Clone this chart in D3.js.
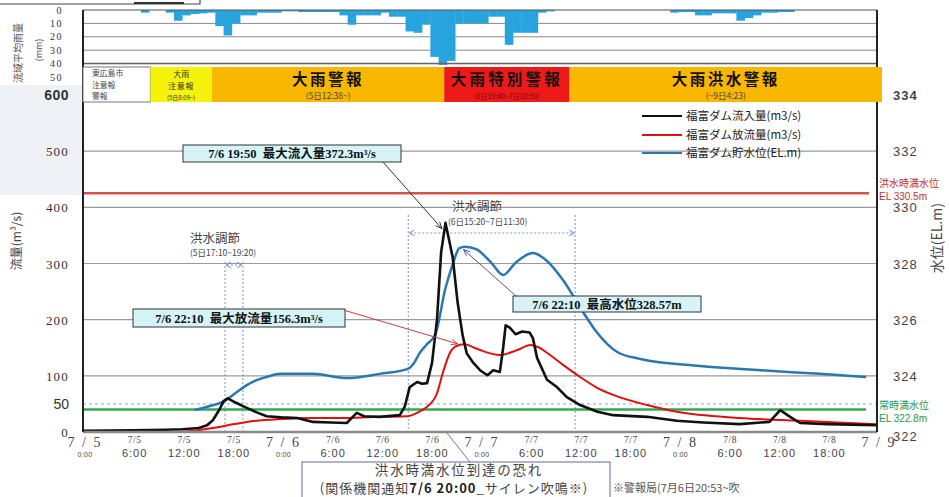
<!DOCTYPE html>
<html><head><meta charset="utf-8">
<script src="https://cdn.jsdelivr.net/npm/d3@7"></script>
<style>body{margin:0;background:#fff;} svg{display:block;}</style>
</head><body><svg id="c" width="949" height="497"></svg>
<script>
// ---------- DATA ----------
// hours since 7/5 0:00
const rainHour=[7,10,11,12,13,14,15,16,17,18,19,20,21,22,23,24,25,26,27,28,29,30,31,32,33,34,35,36,37,38,39,40,41,42,43,44,45,46,47,48,49,50,51,52,53,54,55,56,71,72,73,74,75,76,77,78,79,80,81,82,83,84,85];
const rainMm=[2,2,8,4,3,2.5,2,12,19,10,4,4,2,2,2,1,1,1.5,1.5,1.5,1.5,1.5,4,11,4,4,4,2,5,5,16,17,11,35,41,38,10,10,10,10,5,5,26,17,17,17,2,1,2,1.5,1.5,4,4,2.5,2.5,2.5,8,6,4,2,2,1.5,1.5];

const inflowT=[0,6,10,12,14,15,15.7,16.5,17,17.5,18.5,19.8,21,22.2,24,25.9,27.8,30,31.9,32.5,33.1,34,35.9,38.3,38.9,39.5,40.4,41,41.6,42.2,42.8,43.3,43.83,44.7,45.3,45.9,46.4,47.2,48.0,48.9,49.6,50.4,50.8,51.1,51.6,52.3,53.1,54.0,54.4,54.9,56.1,57.3,58.5,60.1,62.2,64.1,68.2,71.8,75,79.4,83,84.3,85.5,86.7,90,96];
const inflowV=[2,3,4,5,7,12,21,40,55,60,52,43,35,28,26,25,18,17,16,25,34,28,27,30,45,80,89,86,87,123,200,320,372.3,311,230,172,140,123,110,101,110,107,150,190,186,174,179,177,167,132,93,80,62,48,36,30,27,20,17,14,18,39,27,16,14,12];

const outflowT=[0,10,12.5,14.1,15.7,17.5,19.8,23.8,27.8,32,35.9,39.2,40.5,41.6,42.8,43.5,44.4,45.3,46.17,47,48,50.4,52.5,54.1,55.2,56.1,58,60.1,62,64.1,68.2,71.8,79.4,86.7,96];
const outflowV=[0,0,1,3.5,7,12,18,23,25,25,27,28,35,45,69,105,142,154,156.3,152,146,137,146,155,150,141,120,98,80,66,48,36,25,20,14];

const levelT=[13.5,15,16.9,18.5,19.8,21,22.2,23.8,27.8,31.9,35.9,39.2,40,40.7,41.5,42.6,43.8,44.7,45.5,46.2,47.6,49.3,50.8,52.3,54.4,56.1,58.2,60.3,62.0,64.6,67.4,74.6,81.9,89.1,94.7];
const levelV=[322.78,322.9,323.07,323.4,323.67,323.85,323.96,324.07,324.07,323.92,324.07,324.24,324.45,324.81,325.1,325.47,327.09,327.97,328.55,328.6,328.5,328.05,327.59,328.03,328.37,328.09,327.34,326.34,325.6,324.85,324.6,324.35,324.2,324.07,323.96];

const flowTicks=[0,100,200,300,400,500,600];
const levelTicks=[322,324,326,328,330,332,334];
const rainTicks=[0,10,20,30,40,50];
const xTickHours=[0,6,12,18,24,30,36,42,48,54,60,66,72,78,84,90,96];
const xTickDate=["7/5","7/5","7/5","7/5","7/6","7/6","7/6","7/6","7/7","7/7","7/7","7/7","7/8","7/8","7/8","7/8","7/9"];
const xTickTime=["0:00","6:00","12:00","18:00","0:00","6:00","12:00","18:00","0:00","6:00","12:00","18:00","0:00","6:00","12:00","18:00",""];

const warnStart=[8.15,15.6,43.67,58.83];
const warnEnd=[15.6,43.67,58.83,96.6];
const warnName=["大雨|注意報","大雨警報","大雨特別警報","大雨洪水警報"];
const warnSub=["(5日8:09~)","(5日12:38~)","(6日19:40~7日10:50)","(~9日4:23)"];
const warnColor=["#f7f20c","#f9b700","#ee1a1a","#f9b700"];

const floodLevel=330.5, normalLevel=322.8;
const legendNames=["福富ダム流入量(m3/s)","福富ダム放流量(m3/s)","福富ダム貯水位(EL.m)"];
const legendColors=["#111","#e01010","#2a78b0"];

// ---------- SCALES ----------
const svg=d3.select("#c");
const x=d3.scaleLinear().domain([0,96]).range([83,877]);
const yL=d3.scaleLinear().domain([0,600]).range([432,95]);
const yR=d3.scaleLinear().domain([322,334]).range([432,95]);
const yRain=d3.scaleLinear().domain([0,50]).range([10,77]);
const JP="'Noto Sans CJK JP',sans-serif";
const SERIF="'Liberation Serif','Noto Sans CJK JP',serif";
const SANS="'Liberation Sans','Noto Sans CJK JP',sans-serif";

svg.append("rect").attr("width",949).attr("height",497).attr("fill","#fff");
svg.append("rect").attr("x",0).attr("y",85).attr("width",83).attr("height",110).attr("fill","#eef2f7");

svg.append("path").attr("d","M0,4H200V0").attr("fill","none").attr("stroke","#444").attr("stroke-width",1.2);
svg.append("line").attr("x1",134).attr("x2",184).attr("y1",3).attr("y2",3).attr("stroke","#333").attr("stroke-width",2);

// ---------- RAIN PANEL ----------
const rain=svg.append("g");
rain.selectAll("line.rg").data(rainTicks.filter(d=>d>0&&d<50)).join("line")
  .attr("x1",x(0)).attr("x2",x(96)).attr("y1",d=>yRain(d)).attr("y2",d=>yRain(d))
  .attr("stroke","#8a8a8a").attr("stroke-width",1);
rain.selectAll("rect").data(rainHour.map((h,i)=>({h,v:rainMm[i]}))).join("rect")
  .attr("x",d=>x(d.h)).attr("width",d=>x(d.h+1)-x(d.h)+0.3)
  .attr("y",yRain(0)).attr("height",d=>yRain(d.v)-yRain(0)).attr("fill","#27a3dd");
rain.append("line").attr("x1",x(0)).attr("x2",x(96)).attr("y1",yRain(0)).attr("y2",yRain(0)).attr("stroke","#555").attr("stroke-width",1.2);
rain.append("line").attr("x1",x(0)).attr("x2",x(96)).attr("y1",yRain(40)).attr("y2",yRain(40)).attr("stroke","#666").attr("stroke-width",1.5);
rain.selectAll("text").data(rainTicks).join("text")
  .attr("x",63).attr("y",d=>yRain(d)+3.5).attr("text-anchor","end")
  .attr("font-family",SERIF).attr("font-size",10).attr("letter-spacing",1.5).attr("fill","#333").text(d=>d);
svg.append("text").attr("transform","translate(22,53) rotate(-90)").attr("text-anchor","middle")
  .attr("font-family",JP).attr("font-size",10).attr("fill","#555").text("流域平均雨量");
svg.append("text").attr("transform","translate(42,50) rotate(-90)").attr("text-anchor","middle")
  .attr("font-family",JP).attr("font-size",9).attr("fill","#555").text("(mm)");

// ---------- MAIN GRID ----------
const g=svg.append("g");
g.selectAll("line.grid").data(flowTicks.filter(d=>d>0&&d<600)).join("line")
  .attr("x1",x(0)).attr("x2",x(96)).attr("y1",d=>yL(d)).attr("y2",d=>yL(d))
  .attr("stroke","#9a9a9a").attr("stroke-width",1.2);
g.append("line").attr("x1",x(0)).attr("x2",x(96)).attr("y1",yL(50)).attr("y2",yL(50))
  .attr("stroke","#9aa4c4").attr("stroke-width",1).attr("stroke-dasharray","3,3");

const fc=[{s:17.17,e:19.33,top:262,ay:265},{s:39.33,e:59.5,top:215,ay:233}];
fc.forEach(d=>{
  [d.s,d.e].forEach(t=>g.append("line").attr("x1",x(t)).attr("x2",x(t)).attr("y1",d.top).attr("y2",432)
    .attr("stroke","#7d8fc8").attr("stroke-width",1).attr("stroke-dasharray","2,2"));
  g.append("line").attr("x1",x(d.s)+2).attr("x2",x(d.e)-2).attr("y1",d.ay).attr("y2",d.ay)
    .attr("stroke","#7d8fc8").attr("stroke-width",1).attr("stroke-dasharray","2,2");
  [[x(d.s)+1,1],[x(d.e)-1,-1]].forEach(([px,dir])=>g.append("path")
    .attr("d",`M${px+5*dir},${d.ay-3}L${px},${d.ay}L${px+5*dir},${d.ay+3}`).attr("fill","none").attr("stroke","#7d8fc8"));
});

g.append("line").attr("x1",x(0)).attr("x2",869).attr("y1",yR(floodLevel)).attr("y2",yR(floodLevel)).attr("stroke","#d9534a").attr("stroke-width",2.5);
g.append("line").attr("x1",x(0)).attr("x2",866).attr("y1",yR(normalLevel)).attr("y2",yR(normalLevel)).attr("stroke","#2eaa50").attr("stroke-width",2.5);

// ---------- SERIES ----------
const lineR=d3.line().x(d=>x(d[0])).y(d=>yR(d[1])).curve(d3.curveMonotoneX);
g.append("path").datum(levelT.map((t,i)=>[t,levelV[i]])).attr("d",lineR)
  .attr("fill","none").attr("stroke",legendColors[2]).attr("stroke-width",2.5);
g.append("path").datum(outflowT.map((t,i)=>[t,outflowV[i]])).attr("d",d3.line().x(d=>x(d[0])).y(d=>yL(d[1])).curve(d3.curveMonotoneX))
  .attr("fill","none").attr("stroke",legendColors[1]).attr("stroke-width",2);
g.append("path").datum(inflowT.map((t,i)=>[t,inflowV[i]])).attr("d",d3.line().x(d=>x(d[0])).y(d=>yL(d[1])))
  .attr("fill","none").attr("stroke",legendColors[0]).attr("stroke-width",2.6).attr("stroke-linejoin","round");

// ---------- AXES ----------
svg.append("line").attr("x1",x(0)).attr("x2",x(96)).attr("y1",yL(0)).attr("y2",yL(0)).attr("stroke","#8a8a8a").attr("stroke-width",2.5);
svg.append("line").attr("x1",x(0)).attr("x2",x(0)).attr("y1",10).attr("y2",yL(0)).attr("stroke","#222").attr("stroke-width",2);
svg.append("line").attr("x1",x(96)).attr("x2",x(96)).attr("y1",10).attr("y2",yL(0)).attr("stroke","#222").attr("stroke-width",2);

svg.selectAll("text.fl").data(flowTicks).join("text").attr("class","fl")
  .attr("x",69).attr("y",d=>yL(d)+5).attr("text-anchor","end")
  .attr("font-family",d=>d===600?SANS:SERIF).attr("font-weight",d=>d===600?"bold":"normal")
  .attr("font-size",d=>d===600?14:13).attr("letter-spacing",d=>d===600?0.5:1.2).attr("fill","#333").text(d=>d);
svg.append("text").attr("x",69).attr("y",yL(50)+5).attr("text-anchor","end").attr("font-family",SANS)
  .attr("font-size",14).attr("fill","#333").text("50");
svg.append("text").attr("transform",`translate(21,${yL(340)}) rotate(-90)`).attr("text-anchor","middle")
  .attr("font-family",JP).attr("font-size",12).attr("fill","#444").text("流量(m³/s)");

svg.selectAll("text.lv").data(levelTicks).join("text").attr("class","lv")
  .attr("x",893).attr("y",d=>yR(d)+5+(d===322?4:0))
  .attr("font-family",SANS).attr("font-weight",d=>d===334?"bold":"normal")
  .attr("font-size",13).attr("letter-spacing",1).attr("fill","#444").text(d=>d);
svg.append("text").attr("transform",`translate(942,${yR(328.9)}) rotate(-90)`).attr("text-anchor","middle")
  .attr("font-family",JP).attr("font-size",14).attr("fill","#444").text("水位(EL.m)");
[["洪水時満水位","EL  330.5m",floodLevel,"#c0302a",-6],["常時満水位","EL  322.8m",normalLevel,"#1f9a45",-0.5]].forEach(([a,b,v,c,o])=>{
  svg.append("text").attr("x",879).attr("y",yR(v)+o).attr("font-family",JP).attr("font-size",10).attr("fill",c).text(a);
  svg.append("text").attr("x",879).attr("y",yR(v)+o+12.5).attr("font-family",SANS).attr("font-size",10).attr("fill",c).text(b);
});

xTickHours.forEach((h,i)=>{
  const day=h%24===0;
  svg.append("text").attr("x",x(h)+2).attr("y",day?447:443).attr("text-anchor","middle")
    .attr("font-family",SERIF).attr("font-size",day?14:9.5).attr("letter-spacing",day?2:0.5)
    .attr("fill","#444").text(day?xTickDate[i].replace("/"," / "):xTickDate[i]);
  if(xTickTime[i]) svg.append("text").attr("x",x(h)+2).attr("y",457).attr("text-anchor","middle")
    .attr("font-family",SANS).attr("font-size",day?7:11).attr("letter-spacing",day?0.3:1).attr("fill","#444").text(xTickTime[i]);
});

// ---------- WARNING BAND ----------
const bandTop=67, bandBot=102;
svg.append("rect").attr("x",x(0)).attr("y",bandTop).attr("width",x(warnStart[0])-x(0)).attr("height",bandBot-bandTop)
  .attr("fill","#fff").attr("stroke","#777").attr("stroke-width",1);
["東広島市","注意報","警報"].forEach((t,i)=>svg.append("text").attr("x",x(0)+9).attr("y",bandTop+9+i*11.5)
  .attr("font-family",JP).attr("font-size",7.8).attr("fill","#444").text(t));
warnStart.forEach((s,i)=>{
  const x0=x(s), x1=x(warnEnd[i]), cx=(x0+x1)/2;
  svg.append("rect").attr("x",x0).attr("y",bandTop).attr("width",x1-x0).attr("height",bandBot-bandTop).attr("fill",warnColor[i]);
  if(i===0){
    const p=warnName[i].split("|");
    svg.append("text").attr("x",cx).attr("y",bandTop+10).attr("text-anchor","middle").attr("font-family",JP).attr("font-size",8).attr("fill","#333").text(p[0]);
    svg.append("text").attr("x",cx).attr("y",bandTop+21.8).attr("text-anchor","middle").attr("font-family",JP).attr("font-size",8).attr("letter-spacing",0.8).attr("fill","#333").text(p[1]);
    svg.append("text").attr("x",cx).attr("y",bandTop+32.5).attr("text-anchor","middle").attr("font-family",JP).attr("font-size",6).attr("fill","#333").text(warnSub[i]);
  } else {
    svg.append("text").attr("x",cx).attr("y",bandTop+17.5).attr("text-anchor","middle").attr("font-family",JP)
      .attr("font-weight","bold").attr("font-size",15.5).attr("letter-spacing",i===2?3.2:2.5).attr("fill","#111").text(warnName[i]);
    svg.append("text").attr("x",cx).attr("y",bandTop+32).attr("text-anchor","middle").attr("font-family",JP)
      .attr("font-size",i===2?7:8.5).attr("fill",i===2?"#8a0000":"#444").text(warnSub[i]);
  }
});

// ---------- LEGEND ----------
legendNames.forEach((n,i)=>{
  const ly=[116,135,153][i];
  svg.append("line").attr("x1",642).attr("x2",682).attr("y1",ly).attr("y2",ly).attr("stroke",legendColors[i]).attr("stroke-width",2);
  svg.append("text").attr("x",686).attr("y",ly+4).attr("font-family",JP).attr("font-size",11.5).attr("fill","#222").text(n);
});

// ---------- ANNOTATIONS ----------
function callout(t,v,scale,box,text,color){
  svg.append("line").attr("x1",box.ax).attr("y1",box.ay).attr("x2",x(t)).attr("y2",scale(v)).attr("stroke",color).attr("stroke-width",1);
  const ang=Math.atan2(scale(v)-box.ay,x(t)-box.ax);
  const tx=x(t),ty=scale(v);
  svg.append("path").attr("d",`M${tx-7*Math.cos(ang-0.4)},${ty-7*Math.sin(ang-0.4)}L${tx},${ty}L${tx-7*Math.cos(ang+0.4)},${ty-7*Math.sin(ang+0.4)}`)
    .attr("fill","none").attr("stroke",color).attr("stroke-width",1);
  svg.append("rect").attr("x",box.x).attr("y",box.y).attr("width",box.w).attr("height",box.h)
    .attr("fill","#d6f4f7").attr("stroke","#333").attr("stroke-width",1);
  svg.append("text").attr("x",box.x+box.w/2).attr("y",box.y+box.h/2+4.5).attr("text-anchor","middle")
    .attr("font-family",SERIF).attr("font-weight","bold").attr("font-size",12.5).attr("fill","#111").attr("xml:space","preserve").text(text);
}
callout(43.4,362,yL,{x:183,y:145,w:218,h:17,ax:383,ay:162},"7/6 19:50  最大流入量372.3m³/s","#333");
callout(46.0,328.5,yR,{x:513,y:296,w:188,h:16,ax:516,ay:296},"7/6 22:10  最高水位328.57m","#55559a");
callout(45.3,157,yL,{x:133,y:309,w:212,h:18,ax:340,ay:309},"7/6 22:10  最大放流量156.3m³/s","#c04040");

svg.append("text").attr("x",190).attr("y",243).attr("font-family",JP).attr("font-size",12.5).attr("fill","#444").text("洪水調節");
svg.append("text").attr("x",190).attr("y",256).attr("font-family",JP).attr("font-size",8.5).attr("fill","#444").text("(5日17:10~19:20)");
svg.append("text").attr("x",452).attr("y",211).attr("font-family",JP).attr("font-size",12.5).attr("fill","#444").text("洪水調節");
svg.append("text").attr("x",448).attr("y",225).attr("font-family",JP).attr("font-size",8.5).attr("fill","#444").text("(6日15:20~7日11:30)");

// bottom note
svg.append("line").attr("x1",447).attr("y1",433).attr("x2",470).attr("y2",462).attr("stroke","#7070a0").attr("stroke-width",1);
svg.append("rect").attr("x",302).attr("y",462).attr("width",308).attr("height",40).attr("fill","#fff").attr("stroke","#8080a8").attr("stroke-width",1.2);
svg.append("text").attr("x",459).attr("y",474.5).attr("text-anchor","middle").attr("font-family",JP).attr("font-size",13.5).attr("letter-spacing",1.8).attr("fill","#444").text("洪水時満水位到達の恐れ");
const l2=svg.append("text").attr("x",454).attr("y",492.5).attr("text-anchor","middle").attr("font-family",JP).attr("font-size",13).attr("letter-spacing",1).attr("fill","#444");
l2.append("tspan").text("(関係機関通知");
l2.append("tspan").attr("font-weight","bold").attr("fill","#222").text("7/6 20:00");
l2.append("tspan").text("_サイレン吹鳴※)");
svg.append("text").attr("x",613).attr("y",492).attr("font-family",JP).attr("font-size",11).attr("fill","#555").text("※警報局(7月6日20:53~吹");
</script></body></html>
